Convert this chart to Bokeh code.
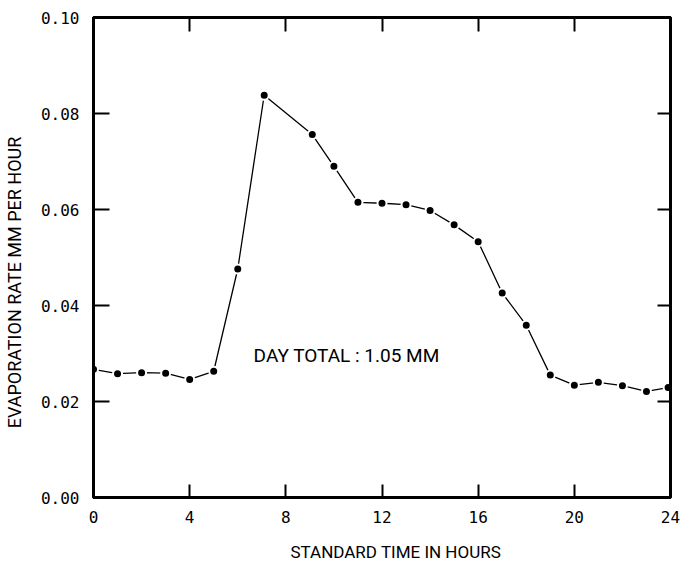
import math
from bokeh.plotting import figure
from bokeh.layouts import row
from bokeh.models import LinearAxis, FixedTicker, NumeralTickFormatter, Label, Range1d, Title
from bokeh.core.properties import value
from bokeh.embed import file_html
from bokeh.resources import INLINE

# Data
hours = [0, 1, 2, 3, 4, 5, 6, 7.1, 9.1, 10, 11, 12, 13, 14, 15, 16, 17, 18, 19, 20, 21, 22, 23, 23.9]
rates = [0.0267, 0.0258, 0.0260, 0.0259, 0.0246, 0.0263, 0.0476, 0.0838, 0.0756, 0.0690,
         0.0615, 0.0613, 0.0610, 0.0598, 0.0568, 0.0533, 0.0426, 0.0359, 0.0255, 0.0234,
         0.0240, 0.0233, 0.0221, 0.0229]
x_ticks = [0, 4, 8, 12, 16, 20, 24]
y_ticks = [0.0, 0.02, 0.04, 0.06, 0.08, 0.10]
x_title = "STANDARD TIME IN HOURS"
y_title = "EVAPORATION RATE MM PER HOUR"
note = "DAY TOTAL : 1.05 MM"

TITLE_FONT = "Roboto"
TICK_FONT = "DejaVu Sans Mono"

# narrow strip holding the rotated y-axis title
ps = figure(frame_width=30, frame_height=566, min_border=0,
            x_range=Range1d(0, 30), y_range=Range1d(0, 566),
            output_backend="svg", toolbar_location=None,
            x_axis_location=None, y_axis_location=None)
ps.grid.visible = False
ps.outline_line_color = None
ps.background_fill_color = "white"
ps.border_fill_color = "white"
ps.text(x=[14], y=[301], text=[y_title], angle=math.pi / 2, text_align="center",
        text_baseline="middle", text_font=value(TITLE_FONT), text_font_size=value("18px"),
        text_color="black")

p = figure(frame_width=577, frame_height=480, min_border_left=63, min_border_right=10,
           min_border_top=17, min_border_bottom=69,
           x_range=Range1d(0, 24), y_range=Range1d(0, 0.10),
           output_backend="svg", toolbar_location=None,
           x_axis_location=None, y_axis_location=None)
p.grid.visible = False
p.outline_line_color = "black"
p.outline_line_width = 3
p.background_fill_color = "white"
p.border_fill_color = "white"


def style_axis(ax, tick_in, show_labels):
    ax.axis_line_width = 3
    ax.axis_line_color = "black"
    ax.major_tick_in = tick_in
    ax.major_tick_out = 0
    ax.major_tick_line_width = 2
    ax.major_tick_line_color = "black"
    ax.minor_tick_line_color = None
    if show_labels:
        ax.major_label_text_font = TICK_FONT
        ax.major_label_text_font_size = "16px"
        ax.major_label_text_color = "black"
    else:
        ax.major_label_text_font_size = "0px"
        ax.major_label_text_alpha = 0


bottom = LinearAxis(ticker=FixedTicker(ticks=x_ticks))
style_axis(bottom, 13, True)
bottom.major_label_standoff = 13
p.add_layout(bottom, "below")

top = LinearAxis(ticker=FixedTicker(ticks=x_ticks))
style_axis(top, 14, False)
p.add_layout(top, "above")

left = LinearAxis(ticker=FixedTicker(ticks=y_ticks), formatter=NumeralTickFormatter(format="0.00"))
style_axis(left, 16, True)
left.major_label_standoff = 14
p.add_layout(left, "left")

right = LinearAxis(ticker=FixedTicker(ticks=y_ticks))
style_axis(right, 13, False)
p.add_layout(right, "right")

p.line(hours, rates, line_color="black", line_width=1.3)
p.scatter(hours, rates, size=9, fill_color="black", line_color="white", line_width=2)

p.add_layout(Label(x=6.66, y=0.0296, text=note, text_font=TITLE_FONT, text_font_size="19px",
                   text_color="black", text_baseline="middle", text_align="left"))

xt = Title(text=x_title, align="left", offset=197, text_font=TITLE_FONT,
           text_font_size="17px", text_font_style="normal", text_color="black", standoff=29)
p.add_layout(xt, "below")

layout = row(ps, p, spacing=0)
open("out.html", "w").write(file_html(layout, INLINE))
